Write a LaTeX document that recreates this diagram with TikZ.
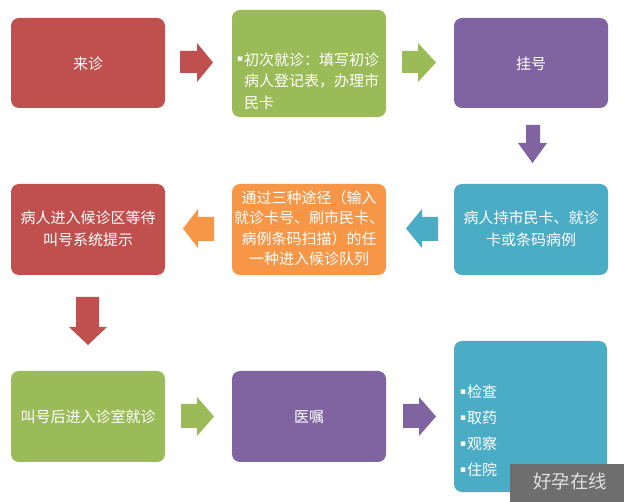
\documentclass[tikz,border=0pt]{standalone}
\usepackage{fontspec}
\setmainfont{Noto Sans CJK SC}
\newfontfamily\dejavu{DejaVu Sans}
\definecolor{cred}{HTML}{C0504D}
\definecolor{cgreen}{HTML}{9BBB59}
\definecolor{cpurple}{HTML}{8064A2}
\definecolor{corange}{HTML}{F79646}
\definecolor{cteal}{HTML}{4BACC6}
\definecolor{cwm}{HTML}{6E6E6E}
\newcommand{\bul}{\raisebox{3.5pt}{\dejavu\fontsize{9}{9}\selectfont ▪}\hspace{1pt}}
\begin{document}
\begin{tikzpicture}[x=1pt,y=-1pt,
  box/.style={rectangle, rounded corners=8pt, inner sep=0pt},
  bw/.style={minimum width=154pt},
  txt/.style={text=white, inner sep=0pt, font=\fontsize{15}{21.5}\selectfont, align=center},
  ltxt/.style={text=white, inner sep=0pt, font=\fontsize{15}{21.5}\selectfont, align=left, anchor=west},
  blk/.style={draw=none}]
\useasboundingbox (0,0) rectangle (624,502);
\fill[white] (0,0) rectangle (624,502);
% boxes
\node[box,bw,fill=cred,minimum height=90pt] (b1) at (88,63) {};
\node[box,bw,fill=cgreen,minimum height=107pt] (b2) at (309,63.5) {};
\node[box,bw,fill=cpurple,minimum height=90pt] (b3) at (531,63) {};
\node[box,bw,fill=cred,minimum height=91pt] (b4) at (88,229.5) {};
\node[box,bw,fill=corange,minimum height=91pt] (b5) at (309,229.5) {};
\node[box,bw,fill=cteal,minimum height=91pt] (b6) at (531,229.5) {};
\node[box,bw,fill=cgreen,minimum height=91pt] (b7) at (88,416.5) {};
\node[box,bw,fill=cpurple,minimum height=91pt] (b8) at (309,416.5) {};
\node[box,minimum width=153pt,fill=cteal,minimum height=151pt] (b9) at (530.5,416.5) {};
% texts
\node[txt] (t1) at (88,64) {来诊};
\node[ltxt] (t2) at (244,81) {\llap{\bul}初次就诊：填写初诊\\病人登记表，办理市\\民卡};
\node[txt] (t3) at (531,64) {挂号};
\node[txt] (t4) at (88,229) {病人进入候诊区等待\\叫号系统提示};
\node[txt,font=\fontsize{15}{20.5}\selectfont] (t5) at (309,228) {通过三种途径（输入\\就诊卡号、刷市民卡、\\病例条码扫描）的任\\一种进入候诊队列};
\node[txt] (t6) at (531,229) {病人持市民卡、就诊\\卡或条码病例};
\node[txt] (t7) at (88,417) {叫号后进入诊室就诊};
\node[txt] (t8) at (309,417) {医嘱};
\node[ltxt,font=\fontsize{15}{26}\selectfont] (t9) at (467,431) {\llap{\bul}检查\\\llap{\bul}取药\\\llap{\bul}观察\\\llap{\bul}住院};
% block arrows
\fill[cred] (180,51)--(197,51)--(197,43)--(213,62.5)--(197,82)--(197,73)--(180,73)--cycle;
\fill[cgreen] (402,51)--(418,51)--(418,43)--(436,62.5)--(418,82)--(418,73)--(402,73)--cycle;
\fill[cpurple] (526,125)--(540,125)--(540,143)--(547,143)--(532.5,163)--(518,143)--(526,143)--cycle;
\fill[cteal] (438,217)--(422,217)--(422,209)--(406,228.5)--(422,248)--(422,241)--(438,241)--cycle;
\fill[corange] (214,217)--(198,217)--(198,209)--(183,228.5)--(198,248)--(198,241)--(214,241)--cycle;
\fill[cred] (76,297)--(99,297)--(99,327)--(107,327)--(88,345)--(69,327)--(76,327)--cycle;
\fill[cgreen] (181,404)--(197,404)--(197,397)--(214,416.5)--(197,436)--(197,428)--(181,428)--cycle;
\fill[cpurple] (403,404)--(419,404)--(419,397)--(436,416.5)--(419,436)--(419,428)--(403,428)--cycle;
% watermark
\node[rectangle, fill=cwm, minimum width=114pt, minimum height=38pt, inner sep=0pt] (wm) at (567,483) {};
\node[text=white!88!black, inner sep=0pt, font=\fontsize{18.5}{20}\selectfont] (wmt) at (570,482) {好孕在线};
\end{tikzpicture}
\end{document}
